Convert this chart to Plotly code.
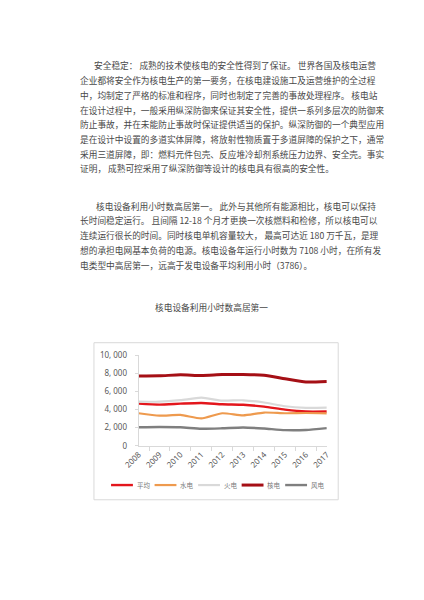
import plotly.graph_objects as go

# ---------------- data ----------------
years = ["2008", "2009", "2010", "2011", "2012", "2013", "2014", "2015", "2016", "2017"]
avg_hours = [4648, 4546, 4650, 4730, 4579, 4521, 4318, 3988, 3785, 3786]
hydro_hours = [3589, 3328, 3404, 3019, 3591, 3359, 3669, 3590, 3619, 3579]
thermal_hours = [4885, 4865, 5031, 5305, 4982, 5021, 4778, 4364, 4186, 4209]
nuclear_hours = [7700, 7716, 7840, 7759, 7855, 7874, 7787, 7403, 7042, 7108]
wind_hours = [2046, 2077, 2047, 1875, 1929, 2025, 1900, 1724, 1742, 1948]
series_names = ["平均", "水电", "火电", "核电", "风电"]
y_tick_vals = [0, 2000, 4000, 6000, 8000, 10000]
y_tick_text = ["0", "2, 000", "4, 000", "6, 000", "8, 000", "10, 000"]

chart_title = "核电设备利用小时数高居第一"
para1 = [
    "安全稳定： 成熟的技术使核电的安全性得到了保证。 世界各国及核电运营",
    "企业都将安全作为核电生产的第一要务，在核电建设施工及运营维护的全过程",
    "中，均制定了严格的标准和程序，同时也制定了完善的事故处理程序。 核电站",
    "在设计过程中，一般采用纵深防御来保证其安全性，提供一系列多层次的防御来",
    "防止事故，并在未能防止事故时保证提供适当的保护。纵深防御的一个典型应用",
    "是在设计中设置的多道实体屏障，将放射性物质置于多道屏障的保护之下，通常",
    "采用三道屏障，即：燃料元件包壳、反应堆冷却剂系统压力边界、安全壳。事实",
    "证明， 成熟可控采用了纵深防御等设计的核电具有很高的安全性。",
]
para2 = [
    "核电设备利用小时数高居第一。 此外与其他所有能源相比，核电可以保持",
    "长时间稳定运行。 且间隔 12-18 个月才更换一次核燃料和检修，所以核电可以",
    "连续运行很长的时间。同时核电单机容量较大， 最高可达近 180 万千瓦，是理",
    "想的承担电网基本负荷的电源。核电设备年运行小时数为 7108 小时，在所有发",
    "电类型中高居第一，远高于发电设备平均利用小时（3786）。",
]

# ---------------- styling ----------------
W, H = 424, 600
FONT = "Noto Sans CJK SC"
TEXT_COLOR = "#484848"


def fx(px):
    return px / W


def fy(py):
    return 1 - py / H


fig = go.Figure()

styles = [
    (avg_hours, "#E3161C", 2.4),
    (hydro_hours, "#EE9A4E", 2.2),
    (thermal_hours, "#D9D9D9", 2.2),
    (nuclear_hours, "#A50F15", 3.0),
    (wind_hours, "#7F7F7F", 2.4),
]
for name, (vals, color, width) in zip(series_names, styles):
    fig.add_trace(go.Scatter(
        x=years, y=vals, name=name, mode="lines",
        line=dict(color=color, width=width, shape="spline", smoothing=0.6),
        hoverinfo="skip", showlegend=False,
    ))

annotations = []
shapes = [dict(type="rect", xref="paper", yref="paper",
               x0=fx(82), x1=fx(339), y0=fy(503), y1=fy(343),
               line=dict(color="#D9D9D9", width=1), layer="below")]

line_h = 15.0
for i, t in enumerate(para1):
    x0 = 80 if i == 0 else 65
    annotations.append(dict(text=t, x=fx(x0), y=fy(61 + i * line_h), xref="paper", yref="paper",
                            xanchor="left", yanchor="middle", showarrow=False,
                            font=dict(family=FONT, size=8.7, color=TEXT_COLOR)))
for i, t in enumerate(para2):
    x0 = 82 if i == 0 else 65
    annotations.append(dict(text=t, x=fx(x0), y=fy(204 + i * line_h), xref="paper", yref="paper",
                            xanchor="left", yanchor="middle", showarrow=False,
                            font=dict(family=FONT, size=8.7, color=TEXT_COLOR)))
annotations.append(dict(text=chart_title, x=fx(206), y=fy(307), xref="paper", yref="paper",
                        xanchor="center", yanchor="middle", showarrow=False,
                        font=dict(family=FONT, size=8.7, color=TEXT_COLOR)))

# legend (compact, as in the reference)
leg_y = 488
leg_x0 = 100
leg_step = 45.8
for i, (name, (vals, color, width)) in enumerate(zip(series_names, styles)):
    lx = leg_x0 + i * leg_step
    shapes.append(dict(type="line", xref="paper", yref="paper",
                       x0=fx(lx), x1=fx(lx + 23), y0=fy(leg_y), y1=fy(leg_y),
                       line=dict(color=color, width=width)))
    annotations.append(dict(text=name, x=fx(lx + 25), y=fy(leg_y), xref="paper", yref="paper",
                            xanchor="left", yanchor="middle", showarrow=False,
                            font=dict(family=FONT, size=6.5, color="#7a7a7a")))

fig.update_layout(
    width=W, height=H,
    margin=dict(l=0, r=0, t=0, b=0),
    paper_bgcolor="white", plot_bgcolor="white",
    font=dict(family=FONT, color="#595959"),
    annotations=annotations,
    shapes=shapes,
    showlegend=False,
    xaxis=dict(domain=[fx(129), fx(327)], type="category", showgrid=False,
               showline=True, linecolor="#D9D9D9", linewidth=1,
               ticks="outside", tickson="boundaries", ticklen=4, tickcolor="#D9D9D9",
               tickangle=-45, tickfont=dict(size=8, color="#595959", family="Noto Sans"),
               fixedrange=True),
    yaxis=dict(domain=[fy(448), fy(355.7)], range=[0, 10000], showgrid=False, zeroline=False,
               tickvals=y_tick_vals, ticktext=y_tick_text,
               showline=True, linecolor="#D9D9D9", linewidth=1,
               ticks="outside", ticklen=3, tickcolor="#D9D9D9", ticklabelstandoff=6,
               tickfont=dict(size=8, color="#595959", family="Noto Sans"),
               fixedrange=True),
)

fig.write_html("out.html", post_script="document.body.style.margin='0';",
               config={"displayModeBar": False})
